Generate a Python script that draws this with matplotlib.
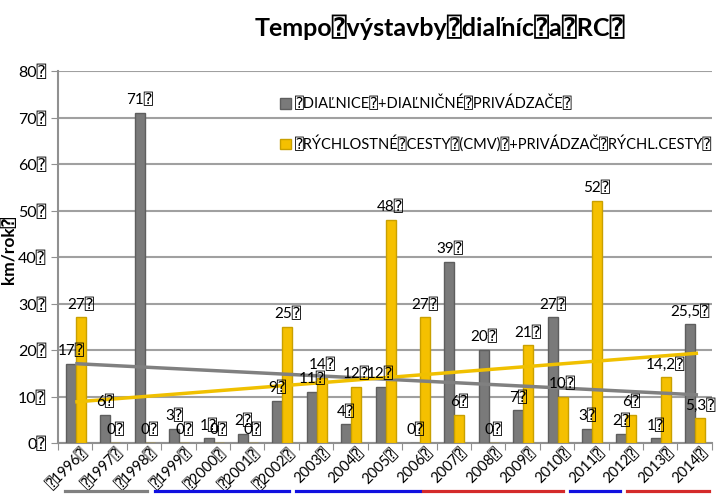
import matplotlib
matplotlib.use("Agg")
import matplotlib.pyplot as plt
import matplotlib.transforms as mtrans
import numpy as np

plt.rcParams['font.family'] = ['Lato', 'DejaVu Sans', 'DejaVu Sans Mono']

Q = "\u2370"

years = list(range(1996, 2015))
dialnice = [17, 6, 71, 3, 1, 2, 9, 11, 4, 12, 0, 39, 20, 7, 27, 3, 2, 1, 25.5]
rychlostne = [27, 0, 0, 0, 0, 0, 25, 14, 12, 48, 27, 6, 0, 21, 10, 52, 6, 14.2, 5.3]
dialnice_lbl = ["17", "6", "71", "3", "1", "2", "9", "11", "4", "12", "0", "39", "20", "7", "27", "3", "2", "1", "25,5"]
rychlostne_lbl = ["27", "0", "0", "0", "0", "0", "25", "14", "12", "48", "27", "6", "0", "21", "10", "52", "6", "14,2", "5,3"]
year_lbl = [(Q if y <= 2002 else "") + str(y) + Q for y in years]

# obdobia vlad (farebne ciary pod osou), od-do v rokoch
period_start = [1995.70, 1998.32, 2002.42, 2006.10, 2010.37, 2012.03]
period_end = [1998.09, 2002.21, 2006.02, 2010.17, 2011.83, 2014.41]
period_col = ["#808080", "#1010e0", "#1010e0", "#d42a2a", "#1010e0", "#d42a2a"]

fig = plt.figure(figsize=(7.2, 4.98), dpi=100)
ax = fig.add_axes([0.0806, 0.1104, 0.908, 0.747])

x = np.arange(len(years))
w = 0.29
ax.bar(x - w / 2 + 0.02, dialnice, w, color="#7a7a7a", edgecolor="#5e5e5e", linewidth=1, zorder=3,
       label=Q + "DIAĽNICE" + Q + "+DIAĽNIČNÉ" + Q + "PRIVÁDZAČE" + Q)
ax.bar(x + w / 2 + 0.02, rychlostne, w, color="#f5c000", edgecolor="#c9a000", linewidth=1, zorder=3,
       label=Q + "RÝCHLOSTNÉ" + Q + "CESTY" + Q + "(CMV)" + Q + "+PRIVÁDZAČ" + Q + "RÝCHL.CESTY" + Q)

for i in range(len(years)):
    ax.text(x[i] - w / 2 + 0.02, dialnice[i] + 1.2, dialnice_lbl[i] + Q, ha="center", va="bottom",
            fontsize=11, zorder=5)
    ax.text(x[i] + w / 2 + 0.02, rychlostne[i] + 1.2, rychlostne_lbl[i] + Q, ha="center", va="bottom",
            fontsize=11, zorder=5)

# linearne trendy
for vals, col in [(dialnice, "#808080"), (rychlostne, "#f0c000")]:
    k, q = np.polyfit(x, vals, 1)
    ax.plot([x[0] + 0.05, x[-1] + 0.05], [k * x[0] + q, k * x[-1] + q], color=col, linewidth=2.5, zorder=4)

ax.set_xlim(-0.5, len(years) - 0.5)
ax.set_ylim(0, 80)
ax.set_yticks(range(0, 81, 10))
ax.set_yticklabels([str(v) + Q for v in range(0, 81, 10)], fontsize=11.5)
ax.set_xticks(np.arange(-0.5, len(years)))
ax.set_xticklabels([])
ax.tick_params(axis="x", length=5, color="#909090")
ax.tick_params(axis="y", length=5, color="#909090")

# popisky rokov (otocene, posunute doprava ako v Exceli)
off = mtrans.ScaledTranslation(11 / 100, -8 / 100, fig.dpi_scale_trans)
for i in range(len(years)):
    ax.text(x[i], 0, year_lbl[i], rotation=45, ha="right", va="center", rotation_mode="anchor",
            fontsize=10.5, transform=ax.get_xaxis_transform() + off, clip_on=False)

ax.grid(axis="y", color="#a0a0a0", linewidth=1.5, zorder=0)
for s in ["top", "right"]:
    ax.spines[s].set_visible(False)
for s in ["left", "bottom"]:
    ax.spines[s].set_color("#909090")
    ax.spines[s].set_linewidth(1.5)

ax.set_ylabel("km/rok" + Q, fontsize=12.5, fontweight="bold")
ax.yaxis.set_label_coords(-0.062, 0.52)
fig.text(0.611, 0.945, "Tempo" + Q + "výstavby" + Q + "diaľníc" + Q + "a" + Q + "RC" + Q,
         ha="center", va="center", fontsize=18, fontweight="bold")

ax.legend(loc="upper left", bbox_to_anchor=(0.32, 0.97), frameon=False, fontsize=10.5,
          handlelength=0.7, handleheight=0.7, handletextpad=0.3, labelspacing=1.6)

# ciary pod rokmi
for a, b, col in zip(period_start, period_end, period_col):
    x0 = ax.transData.transform((a - years[0], 0))[0] / fig.bbox.width
    x1 = ax.transData.transform((b - years[0], 0))[0] / fig.bbox.width
    fig.add_artist(plt.Line2D([x0, x1], [0.014, 0.014], color=col, linewidth=2.3))

fig.savefig("out.png", dpi=100)
